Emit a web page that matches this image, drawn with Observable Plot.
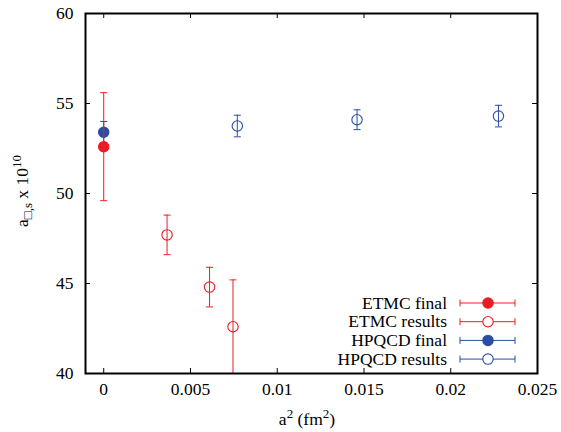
<!DOCTYPE html>
<html><head><meta charset="utf-8">
<script src="https://cdn.jsdelivr.net/npm/d3@7"></script>
<script src="https://cdn.jsdelivr.net/npm/@observablehq/plot@0.6"></script>
<style>body{margin:0;background:#fff}</style>
</head><body><div id="chart"></div>
<script>
const xTicks = [0, 0.005, 0.01, 0.015, 0.02, 0.025];
const yTicks = [40, 45, 50, 55, 60];

const etmcFinalX = [0];
const etmcFinalY = [52.6];
const etmcFinalErr = [3.0];

const etmcResX = [0.00365, 0.0061, 0.00745];
const etmcResY = [47.7, 44.8, 42.6];
const etmcResErr = [1.1, 1.1, 2.6];

const hpqcdFinalX = [0];
const hpqcdFinalY = [53.4];
const hpqcdFinalErr = [0.6];

const hpqcdResX = [0.0077, 0.0146, 0.02275];
const hpqcdResY = [53.75, 54.1, 54.3];
const hpqcdResErr = [0.6, 0.55, 0.6];

const RED = "#ec1c24", BLUE = "#2b4ea3";
const FONT = "Liberation Serif, serif";
const FS = 17.5;

const series = [
  {name: "HPQCD final", xs: hpqcdFinalX, ys: hpqcdFinalY, es: hpqcdFinalErr, color: BLUE, filled: true},
  {name: "HPQCD results", xs: hpqcdResX, ys: hpqcdResY, es: hpqcdResErr, color: BLUE, filled: false},
  {name: "ETMC final", xs: etmcFinalX, ys: etmcFinalY, es: etmcFinalErr, color: RED, filled: true},
  {name: "ETMC results", xs: etmcResX, ys: etmcResY, es: etmcResErr, color: RED, filled: false}
];

const capSymbol = {draw(ctx, size) { const r = 3.5; ctx.moveTo(-r, 0); ctx.lineTo(r, 0); }};

const marks = [];
for (const s of series) {
  const data = s.xs.map((x, i) => ({x, y: s.ys[i], lo: s.ys[i] - s.es[i], hi: s.ys[i] + s.es[i]}));
  marks.push(Plot.ruleX(data, {x: "x", y1: "lo", y2: "hi", stroke: s.color, strokeWidth: 1, clip: true}));
  marks.push(Plot.dot(data, {x: "x", y: "hi", symbol: capSymbol, stroke: s.color, strokeWidth: 1, clip: true}));
  marks.push(Plot.dot(data, {x: "x", y: "lo", symbol: capSymbol, stroke: s.color, strokeWidth: 1, clip: true}));
  marks.push(Plot.dot(data, {x: "x", y: "y", r: 5.2, stroke: s.color, strokeWidth: 1.1,
    fill: s.filled ? s.color : "none"}));
}

const chart = Plot.plot({
  width: 561, height: 432,
  marginLeft: 85, marginRight: 24, marginTop: 13, marginBottom: 59,
  style: {fontFamily: FONT, fontSize: FS + "px", background: "#fff"},
  x: {domain: [-0.00105, 0.025]},
  y: {domain: [40, 60]},
  marks: [
    Plot.axisX(xTicks, {tickSize: 0, tickPadding: 9, label: null, tickFormat: d => String(d), fontSize: FS, fontFamily: FONT}),
    Plot.axisY(yTicks, {tickSize: 0, tickPadding: 12, label: null, fontSize: FS, fontFamily: FONT}),
    Plot.tickX(xTicks, {x: d => d, insetTop: 355, stroke: "black", strokeWidth: 1}),
    Plot.tickX(xTicks, {x: d => d, insetBottom: 355, stroke: "black", strokeWidth: 1}),
    Plot.tickY(yTicks, {y: d => d, insetRight: 447, stroke: "black", strokeWidth: 1}),
    Plot.tickY(yTicks, {y: d => d, insetLeft: 447, stroke: "black", strokeWidth: 1}),
    ...marks,
    Plot.frame({stroke: "black", strokeWidth: 2})
  ]
});

document.getElementById("chart").appendChild(chart);

const svg = d3.select(chart);

// y label
const yl = svg.append("text").attr("transform", "translate(28,191) rotate(-90)")
  .attr("text-anchor", "middle").attr("font-family", FONT).attr("font-size", FS).attr("fill", "black");
yl.append("tspan").text("a");
yl.append("tspan").attr("dy", 4).attr("font-size", 13).text("\u25A1,s");
yl.append("tspan").attr("dy", -4).text(" x 10");
yl.append("tspan").attr("dy", -7).attr("font-size", 13).text("10");

// x label
const xl = svg.append("text").attr("x", 307).attr("y", 425)
  .attr("text-anchor", "middle").attr("font-family", FONT).attr("font-size", FS).attr("fill", "black");
xl.append("tspan").text("a");
xl.append("tspan").attr("dy", -7).attr("font-size", 13).text("2");
xl.append("tspan").attr("dy", 7).text(" (fm");
xl.append("tspan").attr("dy", -7).attr("font-size", 13).text("2");
xl.append("tspan").attr("dy", 7).text(")");

// legend
const legendOrder = ["ETMC final", "ETMC results", "HPQCD final", "HPQCD results"];
legendOrder.forEach((name, i) => {
  const s = series.find(d => d.name === name);
  const cy = 303 + i * 18.7;
  const g = svg.append("g");
  g.append("text").attr("x", 447).attr("y", cy).attr("dy", "0.32em").attr("text-anchor", "end")
    .attr("font-family", FONT).attr("font-size", FS).attr("fill", "black").text(name);
  g.append("line").attr("x1", 460).attr("x2", 515).attr("y1", cy).attr("y2", cy).attr("stroke", s.color);
  g.append("line").attr("x1", 460).attr("x2", 460).attr("y1", cy - 3.5).attr("y2", cy + 3.5).attr("stroke", s.color);
  g.append("line").attr("x1", 515).attr("x2", 515).attr("y1", cy - 3.5).attr("y2", cy + 3.5).attr("stroke", s.color);
  g.append("circle").attr("cx", 488).attr("cy", cy).attr("r", 5.2).attr("stroke", s.color).attr("stroke-width", 1.1)
    .attr("fill", s.filled ? s.color : "white");
});
</script></body></html>
